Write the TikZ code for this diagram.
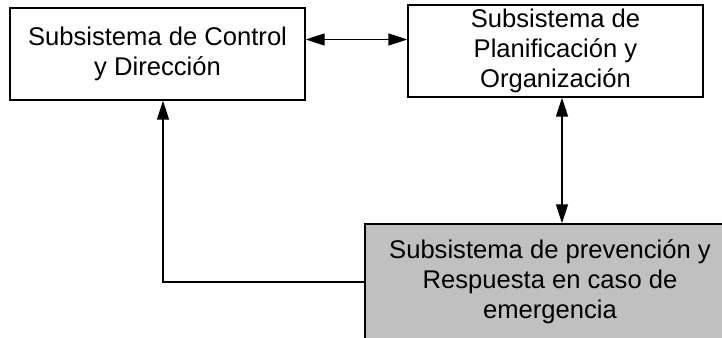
\documentclass[tikz,border=0pt]{standalone}
\usepackage{fontspec}
\setmainfont{Liberation Sans}
\usetikzlibrary{arrows.meta}
\definecolor{boxgray}{HTML}{C0C0C0}
\begin{document}
\begin{tikzpicture}[x=1pt,y=1pt,
  sysbox/.style={draw=black, line width=1.4pt, inner sep=0pt, align=center,
    font=\fontsize{25.6}{30}\selectfont},
  tip/.tip={Triangle[length=19pt,width=12pt]},
  link/.style={line width=1.4pt, tip-tip},
  onelink/.style={line width=1.4pt, -tip}]
  \useasboundingbox (0,0) rectangle (722,337);
  \clip (0,0) rectangle (722,337);
  % boxes (y measured upward from the bottom edge)
  \node[sysbox, minimum width=295pt, minimum height=92pt] (control)
    at (157.5,283) {Subsistema de Control\\y Dirección};
  \node[sysbox, minimum width=295pt, minimum height=92pt] (plan)
    at (555.5,286) {Subsistema de\\Planificación y\\Organización};
  \node[sysbox, fill=boxgray, minimum width=370pt, minimum height=116pt] (resp)
    at (550,55) {Subsistema de prevención y\\Respuesta en caso de\\emergencia};
  % connector guides
  \coordinate (hrow) at (0,297.5);
  \coordinate (vcol) at (562,0);
  \coordinate (lcol) at (163,0);
  % connectors
  \draw[link] (control.east |- hrow) -- (plan.west |- hrow);
  \draw[link] (plan.south -| vcol) -- (resp.north -| vcol);
  \draw[onelink] (resp.west) -| (control.south -| lcol);
\end{tikzpicture}
\end{document}
